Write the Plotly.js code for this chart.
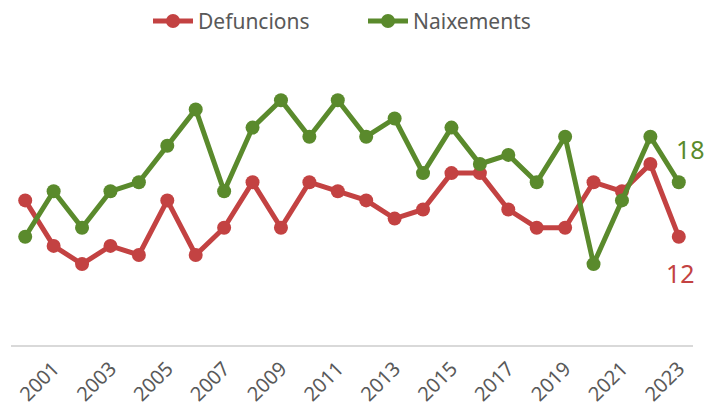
<!DOCTYPE html>
<html>
<head>
<meta charset="utf-8">
<script src="https://cdn.plot.ly/plotly-3.0.1.min.js"></script>
<style>html,body{margin:0;padding:0;background:#fff;}#chart{width:707px;height:413px;}</style>
</head>
<body>
<div id="chart"></div>
<script>
const years = [2000,2001,2002,2003,2004,2005,2006,2007,2008,2009,2010,2011,2012,2013,2014,2015,2016,2017,2018,2019,2020,2021,2022,2023];
const defuncions = [16,11,9,11,10,16,10,13,18,13,18,17,16,14,15,19,19,15,13,13,18,17,20,12];
const naixements = [12,17,13,17,18,22,26,17,24,27,23,27,23,25,19,24,20,21,18,23,9,16,23,18];
const tickYears = [2001,2003,2005,2007,2009,2011,2013,2015,2017,2019,2021,2023];
const seriesNames = ["Defuncions","Naixements"];

const red = "#C34242";
const green = "#5A8A2C";
const font = "Noto Sans, Open Sans, sans-serif";

const traces = [
  {x: years, y: defuncions, name: seriesNames[0], type: "scatter", mode: "lines+markers",
   line: {color: red, width: 5}, marker: {color: red, size: 14}},
  {x: years, y: naixements, name: seriesNames[1], type: "scatter", mode: "lines+markers",
   line: {color: green, width: 5}, marker: {color: green, size: 14}}
];

const last = years.length - 1;
const layout = {
  width: 707, height: 413,
  margin: {l: 11, r: 14, t: 73, b: 67},
  paper_bgcolor: "#fff", plot_bgcolor: "#fff",
  showlegend: true,
  legend: {orientation: "h", xref: "container", x: 148 / 707, xanchor: "left", yref: "container", y: 0.998, yanchor: "top",
           font: {family: font, size: 21, color: "#595959"}, itemwidth: 40,
           entrywidth: 160, entrywidthmode: "pixels", traceorder: "normal"},
  xaxis: {range: [1999.5, 2023.5], tickvals: tickYears, ticktext: tickYears.map(String),
          tickangle: -45, showgrid: false, zeroline: false, showline: false, ticks: "",
          ticklabelstandoff: 6,
          tickfont: {family: font, size: 20, color: "#595959"}, fixedrange: true},
  yaxis: {range: [0, 30], showgrid: false, showticklabels: false, zeroline: true,
          zerolinecolor: "#D9D9D9", zerolinewidth: 2, showline: false, ticks: "", fixedrange: true},
  annotations: [
    {x: years[last], y: naixements[last], text: String(naixements[last]), showarrow: false,
     xshift: 12, yshift: 33, font: {family: font, size: 25, color: green}},
    {x: years[last], y: defuncions[last], text: String(defuncions[last]), showarrow: false,
     xshift: 2, yshift: -36, font: {family: font, size: 25, color: red}}
  ]
};

Plotly.newPlot("chart", traces, layout, {displayModeBar: false, staticPlot: true});
</script>
</body>
</html>
